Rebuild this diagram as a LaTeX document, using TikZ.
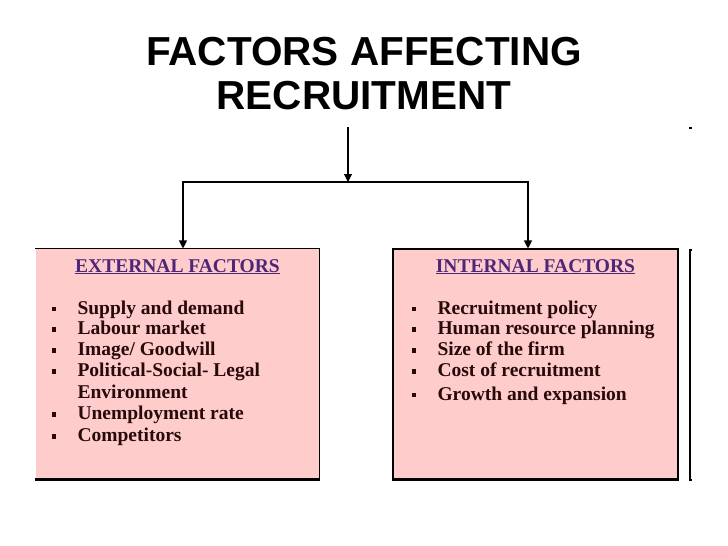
\documentclass[tikz,border=0pt]{standalone}
\usepackage{fontspec}
\setmainfont{Liberation Serif}
\newfontfamily\titlefont{Liberation Sans}
\usetikzlibrary{arrows.meta}
\definecolor{boxpink}{RGB}{255,204,204}
\definecolor{headpurple}{RGB}{78,38,120}
\definecolor{itemink}{RGB}{40,10,10}
\newcommand{\bul}{\makebox[26pt][l]{\rule[3pt]{4pt}{4.5pt}}}
\begin{document}
\begin{tikzpicture}[x=1pt,y=-1pt,>={Triangle[width=8pt,length=8pt]},line width=1.1pt,
    factorbox/.style={fill=boxpink,minimum width=#1,minimum height=230pt,inner sep=0pt},
    heading/.style={anchor=base,inner sep=0pt,text=headpurple,font=\fontsize{19.5}{20.8}\selectfont\bfseries},
    itemlist/.style={anchor=base west,inner sep=0pt,text=itemink,font=\fontsize{19.5}{20.8}\selectfont\bfseries}]
    \useasboundingbox (0,0) rectangle (728,546);

    % title and stem
    \node[anchor=base,inner sep=0pt,font=\titlefont\fontsize{40.5}{44}\selectfont\bfseries] (title) at (364,65)
        {\begin{tabular}[t]{@{}c@{}}FACTORS AFFECTING\\RECRUITMENT\end{tabular}};
    \coordinate (stem) at (348,127);
    \coordinate (split) at (348,182);

    % the two boxes
    \node[factorbox=283pt] (ext) at (177.5,364) {};
    \node[factorbox=285pt,draw] (int) at (535.5,364) {};
    \draw (ext.north west) -- (ext.north east);
    \draw[line width=1.6pt] (ext.north east) -- (ext.south east);
    \draw[line width=2.2pt] (ext.south west) -- (ext.south east);
    \draw[line width=2.2pt] (int.south west) -- (int.south east);

    % next box, cut off at the edge
    \draw (692,250) -- (690,250) -- (690,480) -- (692,480);
    \draw (689,128) -- (692,128);

    % connectors
    \draw[->] (stem) -- (split);
    \draw[->] (split) -| ([xshift=5.5pt]ext.north);
    \draw[->] (split) -| ([xshift=-7.5pt]int.north);

    % texts
    \node[heading] (exthead) at (ext.center |- 0,272) {\underline{EXTERNAL FACTORS}};
    \node[heading] (inthead) at (int.center |- 0,272) {\underline{INTERNAL FACTORS}};
    \node[itemlist] (extlist) at (51,314) {\begin{tabular}[t]{@{}l@{}l@{}}
        \bul & Supply and demand\\
        \bul & Labour market\\
        \bul & Image/ Goodwill\\[0.5pt]
        \bul & Political-Social- Legal\\[1pt]
             & Environment\\
        \bul & Unemployment rate\\[1.5pt]
        \bul & Competitors
        \end{tabular}};
    \node[itemlist] (intlist) at (411,314) {\begin{tabular}[t]{@{}l@{}l@{}}
        \bul & Recruitment policy\\
        \bul & Human resource planning\\
        \bul & Size of the firm\\[0.5pt]
        \bul & Cost of recruitment\\[2.5pt]
        \bul & Growth and expansion
        \end{tabular}};
\end{tikzpicture}
\end{document}
